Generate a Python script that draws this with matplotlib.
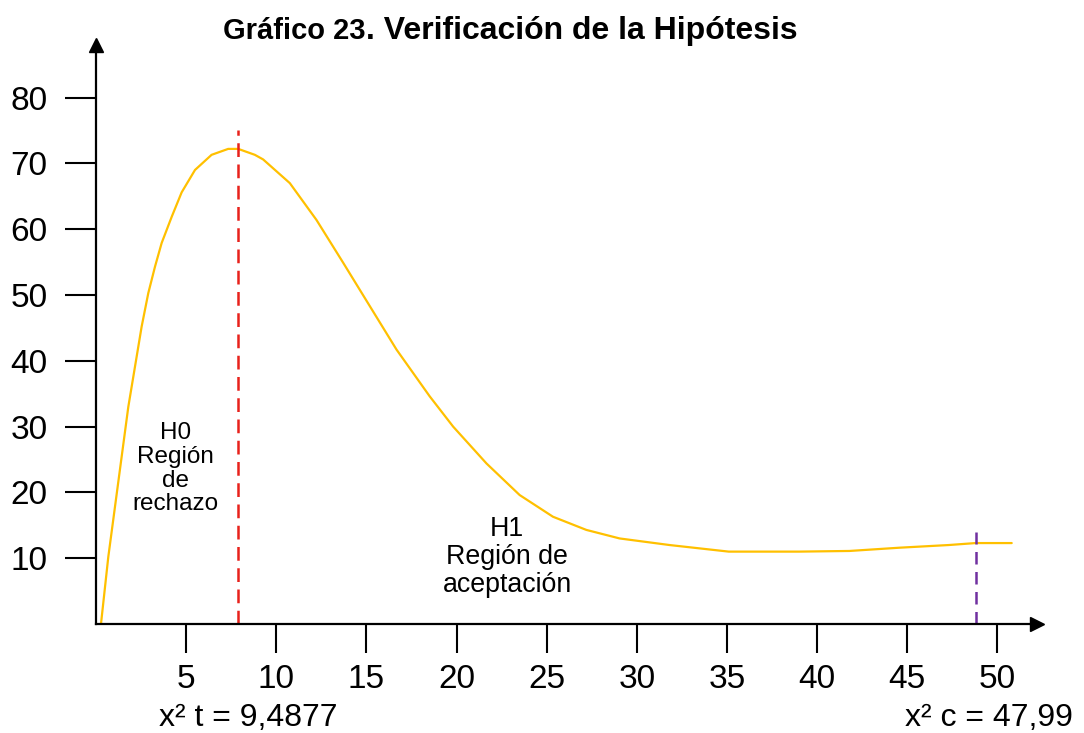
import matplotlib
matplotlib.use('Agg')
import matplotlib.pyplot as plt

# curve (x: chi-square, y: height)
curve_x = [0.28, 0.68, 1.05, 1.42, 1.79, 2.16, 2.53, 2.90, 3.27, 3.64, 4.20,
           4.75, 5.49, 6.41, 7.33, 7.89, 8.81, 9.27, 10.75, 12.23, 13.71,
           15.19, 16.67, 18.51, 19.81, 21.66, 23.50, 25.35, 27.20, 29.05,
           31.82, 35.1, 39.0, 41.8, 44.6, 47.3, 48.8, 50.8]
curve_y = [0.15, 10.2, 17.8, 25.4, 33.0, 39.1, 45.2, 50.3, 54.3, 57.9, 61.9,
           65.6, 69.0, 71.3, 72.2, 72.2, 71.3, 70.6, 67.0, 61.4, 54.9,
           48.3, 41.7, 34.6, 30.0, 24.4, 19.6, 16.3, 14.3, 13.0,
           12.0, 11.0, 11.0, 11.1, 11.6, 12.0, 12.3, 12.3]

x_ticks = [5, 10, 15, 20, 25, 30, 35, 40, 45, 50]
y_ticks = [10, 20, 30, 40, 50, 60, 70, 80]

chi_tab = 7.87      # red dashed line position
chi_tab_top = 75.1
chi_calc = 48.8     # purple dashed line position
chi_calc_top = 14.0

plt.rcParams['font.family'] = ['Liberation Sans', 'DejaVu Sans']

fig = plt.figure(figsize=(10.84, 7.33), dpi=100)
ax = fig.add_axes([0.0886, 0.1487, 0.868, 0.790])

ax.plot(curve_x, curve_y, color='#FFC000', lw=1.6, solid_capstyle='round',
        solid_joinstyle='round')
ax.plot([chi_tab, chi_tab], [0, chi_tab_top], color='#E8211B', lw=1.8,
        dashes=(5.5, 3))
ax.plot([chi_calc, chi_calc], [0, chi_calc_top], color='#7030A0', lw=1.8,
        dashes=(5, 3))

ax.set_xlim(0, 52.2)
ax.set_ylim(0, 88)
ax.set_xticks(x_ticks)
ax.set_yticks(y_ticks)
ax.tick_params(axis='x', direction='out', length=21, width=1.5, pad=8,
               labelsize=24)
ax.tick_params(axis='y', direction='out', length=22, width=1.5, pad=13,
               labelsize=24)

for s in ['top', 'right']:
    ax.spines[s].set_visible(False)
for s in ['left', 'bottom']:
    ax.spines[s].set_linewidth(1.6)

# arrow heads on the axes
ax.plot(1, 0, '>k', ms=10, transform=ax.transAxes, clip_on=False)
ax.plot(0, 1, '^k', ms=10, transform=ax.transAxes, clip_on=False)

ax.text(4.43, 23.6, 'H0\nRegión\nde\nrechazo', ha='center', va='center',
        fontsize=17.5, linespacing=1.1)
ax.text(22.8, 10.2, 'H1\nRegión de\naceptación', ha='center', va='center',
        fontsize=19.3, linespacing=1.1)

fig.text(0.337, 0.958, 'Gráfico 23', ha='right', va='center', fontsize=21,
         fontweight='bold')
fig.text(0.338, 0.958, '. Verificación de la Hipótesis', ha='left',
         va='center', fontsize=23, fontweight='bold')

fig.text(0.229, 0.020, 'x² t = 9,4877', ha='center', va='center', fontsize=23)
fig.text(0.912, 0.020, 'x² c = 47,99', ha='center', va='center', fontsize=23)

fig.savefig('out.png', dpi=100)
